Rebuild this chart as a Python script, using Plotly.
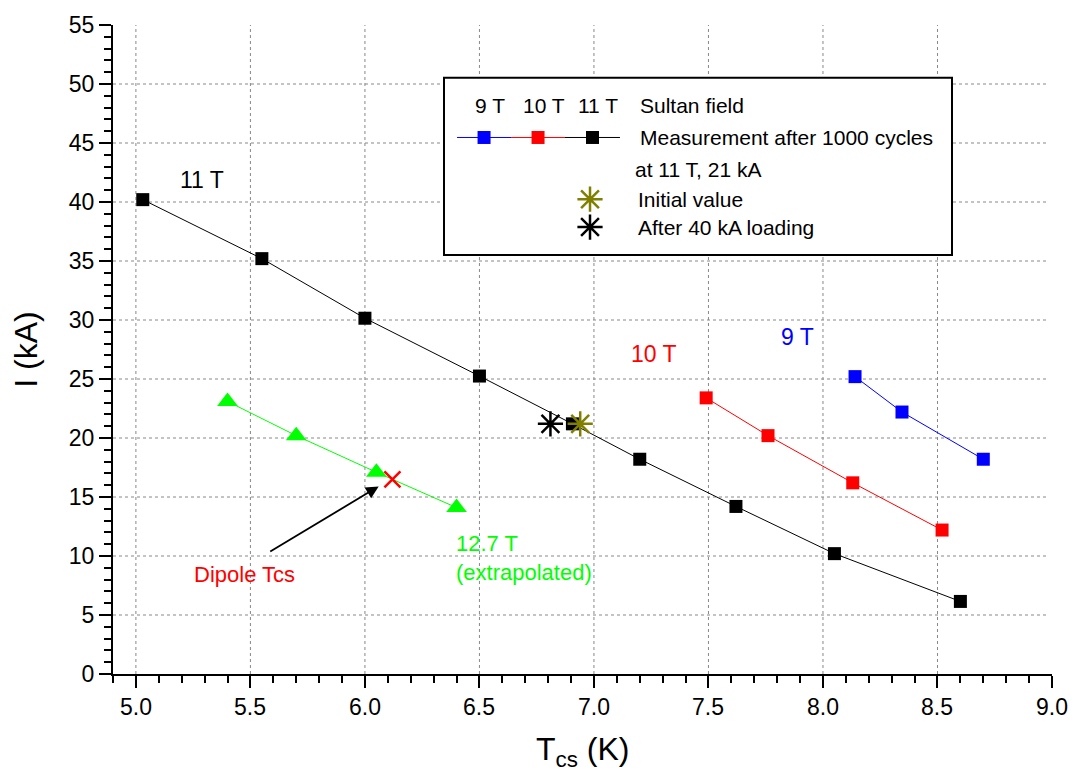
import plotly.graph_objects as go

# Critical current vs. current-sharing temperature, Sultan test data
t_9T = [8.14, 8.345, 8.70]
i_9T = [25.2, 22.2, 18.2]

t_10T = [7.49, 7.76, 8.13, 8.52]
i_10T = [23.4, 20.2, 16.2, 12.2]

t_11T = [5.03, 5.55, 6.0, 6.5, 6.906, 7.20, 7.62, 8.05, 8.60]
i_11T = [40.2, 35.2, 30.15, 25.25, 21.2, 18.2, 14.2, 10.2, 6.15]

t_127T = [5.40, 5.70, 6.05, 6.40]
i_127T = [23.1, 20.2, 17.1, 14.1]

t_initial = [6.94]
i_initial = [21.2]
t_after40 = [6.81]
i_after40 = [21.2]

t_dipole = [6.12]
i_dipole = [16.5]

x_ticks = [5.0, 5.5, 6.0, 6.5, 7.0, 7.5, 8.0, 8.5, 9.0]
y_ticks = [0, 5, 10, 15, 20, 25, 30, 35, 40, 45, 50, 55]
x_range = [4.9, 9.0]
y_range = [0, 55]

FONT = "Arial, Liberation Sans, sans-serif"
BLUE, RED, BLACK, GREEN, OLIVE = "#0000ff", "#ff0000", "#000000", "#00ff00", "#808000"

fig = go.Figure()


def series(x, y, color, symbol, size):
    fig.add_trace(go.Scatter(
        x=x, y=y, mode="lines+markers",
        line=dict(color=color, width=1),
        marker=dict(color=color, symbol=symbol, size=size, line=dict(width=0)),
        showlegend=False, hoverinfo="x+y",
    ))


def point(x, y, color, symbol, size, xaxis="x", yaxis="y"):
    fig.add_trace(go.Scatter(
        x=x, y=y, mode="markers", xaxis=xaxis, yaxis=yaxis,
        marker=dict(symbol=symbol, size=size, color=color,
                    line=dict(color=color, width=2.5)),
        showlegend=False))


series(t_11T, i_11T, BLACK, "square", 13)
series(t_10T, i_10T, RED, "square", 13)
series(t_9T, i_9T, BLUE, "square", 13)
series(t_127T, i_127T, GREEN, "triangle-up", 18)

point(t_after40, i_after40, BLACK, "asterisk-open", 21)
point(t_initial, i_initial, OLIVE, "asterisk-open", 21)
point(t_dipole, i_dipole, RED, "x-thin-open", 16)

# Dotted grid at interior major ticks
for xv in x_ticks:
    if x_range[0] < xv < x_range[1]:
        fig.add_shape(type="line", xref="x", yref="paper", x0=xv, x1=xv, y0=0, y1=1,
                      line=dict(color="#888888", width=1, dash="dot"), layer="below")
for yv in y_ticks:
    if y_range[0] < yv < y_range[1]:
        fig.add_shape(type="line", xref="paper", yref="y", x0=0, x1=0.995, y0=yv, y1=yv,
                      line=dict(color="#888888", width=1, dash="dot"), layer="below")

# X tick labels and axis title, set a little further below the axis line
for xv in x_ticks:
    fig.add_annotation(x=xv, y=0, xref="x", yref="paper", text=f"{xv:.1f}",
                       showarrow=False, xanchor="center", yanchor="middle", yshift=-33,
                       font=dict(family=FONT, size=23, color=BLACK))
fig.add_annotation(x=0.5, y=0, xref="paper", yref="paper", text="T<sub>cs</sub> (K)",
                   showarrow=False, xanchor="center", yanchor="middle", yshift=-77,
                   font=dict(family=FONT, size=32, color=BLACK))

# Curve labels
labels = [
    (5.29, 41.9, "11 T", BLACK),
    (7.26, 27.1, "10 T", RED),
    (7.89, 28.6, "9 T", BLUE),
]
for x, y, txt, col in labels:
    fig.add_annotation(x=x, y=y, text=txt, showarrow=False, xanchor="center", yanchor="middle",
                       font=dict(family=FONT, size=23, color=col))

fig.add_annotation(x=5.475, y=8.4, text="Dipole Tcs", showarrow=False,
                   xanchor="center", yanchor="middle",
                   font=dict(family=FONT, size=22, color=RED))
fig.add_annotation(x=6.39, y=9.8, text="12.7 T<br>(extrapolated)", showarrow=False,
                   xanchor="left", yanchor="middle", align="left",
                   font=dict(family=FONT, size=22, color=GREEN))

# Arrow pointing at the dipole operating point
fig.add_annotation(x=6.06, y=15.9, ax=5.58, ay=10.3, axref="x", ayref="y",
                   xref="x", yref="y", text="", showarrow=True,
                   arrowhead=2, arrowsize=1.4, arrowwidth=1.8, arrowcolor=BLACK)

# Hand-built legend box
fig.add_shape(type="rect", xref="paper", yref="paper",
              x0=0.3525, x1=0.8935, y0=0.6457, y1=0.9187,
              line=dict(color=BLACK, width=2), fillcolor="white", layer="below")

leg_rows = [0.8758, 0.8267, 0.7776, 0.7316, 0.6887]
seg_edges = [0.3664, 0.4239, 0.4814, 0.5399]
seg_colors = [BLUE, RED, BLACK]
field_names = ["9 T", "10 T", "11 T"]

for k, col in enumerate(seg_colors):
    x0, x1 = seg_edges[k], seg_edges[k + 1]
    fig.add_trace(go.Scatter(
        x=[x0, x1], y=[leg_rows[1]] * 2, xaxis="x2", yaxis="y2", mode="lines",
        line=dict(color=col, width=1), showlegend=False, hoverinfo="skip"))
    fig.add_trace(go.Scatter(
        x=[(x0 + x1) / 2], y=[leg_rows[1]], xaxis="x2", yaxis="y2", mode="markers",
        marker=dict(color=col, symbol="square", size=13), showlegend=False, hoverinfo="skip"))
    fig.add_annotation(x=(x0 + x1) / 2 + 0.006, y=leg_rows[0], xref="paper", yref="paper",
                       text=field_names[k], showarrow=False,
                       xanchor="center", yanchor="middle",
                       font=dict(family=FONT, size=21, color=BLACK))

point([0.508], [leg_rows[3]], OLIVE, "asterisk-open", 21, "x2", "y2")
point([0.508], [leg_rows[4]], BLACK, "asterisk-open", 21, "x2", "y2")

leg_text = [
    (0.5591, leg_rows[0], "Sultan field"),
    (0.5591, leg_rows[1], "Measurement after 1000 cycles"),
    (0.5538, leg_rows[2], "at 11 T, 21 kA"),
    (0.5570, leg_rows[3], "Initial value"),
    (0.5570, leg_rows[4], "After 40 kA loading"),
]
for x, y, txt in leg_text:
    fig.add_annotation(x=x, y=y, xref="paper", yref="paper", text=txt, showarrow=False,
                       xanchor="left", yanchor="middle",
                       font=dict(family=FONT, size=21, color=BLACK))

axis_common = dict(
    showline=True, linecolor=BLACK, linewidth=2,
    ticks="outside", ticklen=12, tickwidth=2, tickcolor=BLACK,
    showgrid=False, zeroline=False, mirror=False,
    tickfont=dict(family=FONT, size=23, color=BLACK),
)

fig.update_layout(
    width=1074, height=774,
    margin=dict(l=113, r=22, t=22, b=100),
    paper_bgcolor="white", plot_bgcolor="rgba(0,0,0,0)",
    showlegend=False,
    xaxis=dict(
        range=x_range, tickvals=x_ticks, showticklabels=False,
        minor=dict(dtick=0.1, tick0=4.9, ticks="outside", ticklen=7, tickwidth=2,
                   tickcolor=BLACK, showgrid=False),
        **axis_common,
    ),
    yaxis=dict(
        range=y_range, tickvals=y_ticks,
        minor=dict(dtick=1, tick0=0, ticks="outside", ticklen=7, tickwidth=2,
                   tickcolor=BLACK, showgrid=False),
        title=dict(text="I (kA)", font=dict(family=FONT, size=32, color=BLACK),
                   standoff=22),
        **axis_common,
    ),
    xaxis2=dict(domain=[0, 1], range=[0, 1], visible=False, anchor="y2", fixedrange=True),
    yaxis2=dict(domain=[0, 1], range=[0, 1], visible=False, anchor="x2", fixedrange=True),
)

fig.write_html("out.html")
